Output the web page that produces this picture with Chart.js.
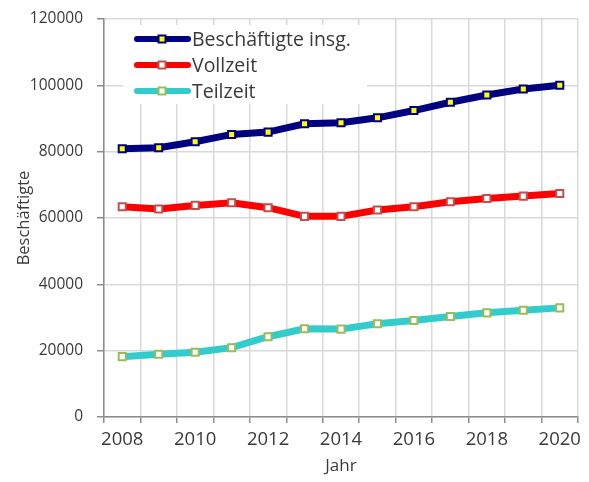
<!DOCTYPE html>
<html>
<head>
<meta charset="utf-8">
<script src="https://cdn.jsdelivr.net/npm/chart.js@4"></script>
<style>
    html, body { margin: 0; padding: 0; background: #ffffff; }
    #chart { display: block; }
</style>
</head>
<body>
<canvas id="chart" width="589" height="482"></canvas>
<script>
const years = ['2008', '2009', '2010', '2011', '2012', '2013', '2014', '2015', '2016', '2017', '2018', '2019', '2020'];
const gesamt = [80900, 81200, 83000, 85200, 85900, 88400, 88700, 90200, 92400, 94900, 97100, 98900, 100000];
const vollzeit = [63400, 62700, 63800, 64600, 63100, 60500, 60500, 62400, 63400, 64900, 65900, 66600, 67400];
const teilzeit = [18200, 18900, 19500, 20900, 24200, 26600, 26500, 28100, 29100, 30300, 31400, 32200, 32900];
const seriesNames = ['Beschäftigte insg.', 'Vollzeit', 'Teilzeit'];

const colors = {
    navy: '#000080',
    yellow: '#ffff00',
    red: '#ff0000',
    redMarker: '#c0504d',
    teal: '#33cccc',
    tealMarker: '#9bbb59',
    white: '#ffffff',
    grid: '#d9d9d9',
    axis: '#8c8c8c',
    text: '#3a3a3a',
};

const fontFamily = "'Open Sans', 'Noto Sans', sans-serif";

function series(label, data, line, fill, border) {
    return {
        label,
        data,
        borderColor: line,
        backgroundColor: line,
        borderWidth: 7,
        tension: 0,
        pointStyle: 'rect',
        pointRadius: 5,
        pointBorderWidth: 2,
        pointBackgroundColor: fill,
        pointBorderColor: border,
    };
}

// legend sits inside the plot on a white box, like the original
const insideLegend = {
    id: 'insideLegend',
    afterDatasetsDraw(chart) {
        const ctx = chart.ctx;
        ctx.save();
        ctx.fillStyle = colors.white;
        ctx.fillRect(123, 25, 244, 79);
        chart.data.datasets.forEach((ds, i) => {
            const y = 39 + i * 26;
            ctx.strokeStyle = ds.borderColor;
            ctx.lineWidth = 6;
            ctx.lineCap = 'round';
            ctx.beginPath();
            ctx.moveTo(137, y);
            ctx.lineTo(188, y);
            ctx.stroke();
            const s = 7;
            ctx.fillStyle = ds.pointBackgroundColor;
            ctx.fillRect(162 - s / 2, y - s / 2, s, s);
            ctx.strokeStyle = ds.pointBorderColor;
            ctx.lineWidth = 2;
            ctx.strokeRect(162 - s / 2, y - s / 2, s, s);
            ctx.fillStyle = colors.text;
            ctx.font = `19.5px ${fontFamily}`;
            ctx.textBaseline = 'middle';
            ctx.textAlign = 'left';
            ctx.fillText(ds.label, 192, y + 1);
        });
        ctx.restore();
    },
};

new Chart(document.getElementById('chart'), {
    type: 'line',
    data: {
        labels: years,
        datasets: [
            series(seriesNames[0], gesamt, colors.navy, colors.yellow, colors.navy),
            series(seriesNames[1], vollzeit, colors.red, colors.white, colors.redMarker),
            series(seriesNames[2], teilzeit, colors.teal, colors.white, colors.tealMarker),
        ],
    },
    options: {
        responsive: false,
        animation: false,
        layout: { padding: { top: 19, right: 11, left: 0, bottom: 0 } },
        plugins: {
            legend: { display: false },
            tooltip: { enabled: false },
        },
        scales: {
            x: {
                offset: true,
                afterFit(scale) {
                    scale.height = 65;
                    scale.paddingLeft = 0;
                    scale.paddingRight = 0;
                },
                grid: {
                    offset: true,
                    color: colors.grid,
                    lineWidth: 1.5,
                    tickColor: colors.axis,
                    tickLength: 6,
                },
                border: { color: colors.axis, width: 1.5 },
                ticks: {
                    autoSkip: false,
                    maxRotation: 0,
                    padding: 6,
                    color: colors.text,
                    font: { family: fontFamily, size: 18.5 },
                    callback(value, index) {
                        return index % 2 === 0 ? years[index] : '';
                    },
                },
                title: {
                    display: true,
                    text: 'Jahr',
                    color: colors.text,
                    font: { family: fontFamily, size: 17 },
                    padding: { top: 0, bottom: 6 },
                },
            },
            y: {
                min: 0,
                max: 120000,
                afterFit(scale) {
                    scale.width = 104;
                    scale.paddingTop = 0;
                    scale.paddingBottom = 0;
                },
                grid: {
                    color: colors.grid,
                    lineWidth: 1.5,
                    tickColor: colors.axis,
                    tickLength: 7,
                },
                border: { color: colors.axis, width: 1.5 },
                ticks: {
                    stepSize: 20000,
                    padding: 14,
                    color: colors.text,
                    font: { family: fontFamily, size: 15.5 },
                    callback: (value) => String(value),
                },
                title: {
                    display: true,
                    text: 'Beschäftigte',
                    color: colors.text,
                    font: { family: fontFamily, size: 16.5 },
                    padding: { top: 14, bottom: 0 },
                },
            },
        },
    },
    plugins: [insideLegend],
});
</script>
</body>
</html>
